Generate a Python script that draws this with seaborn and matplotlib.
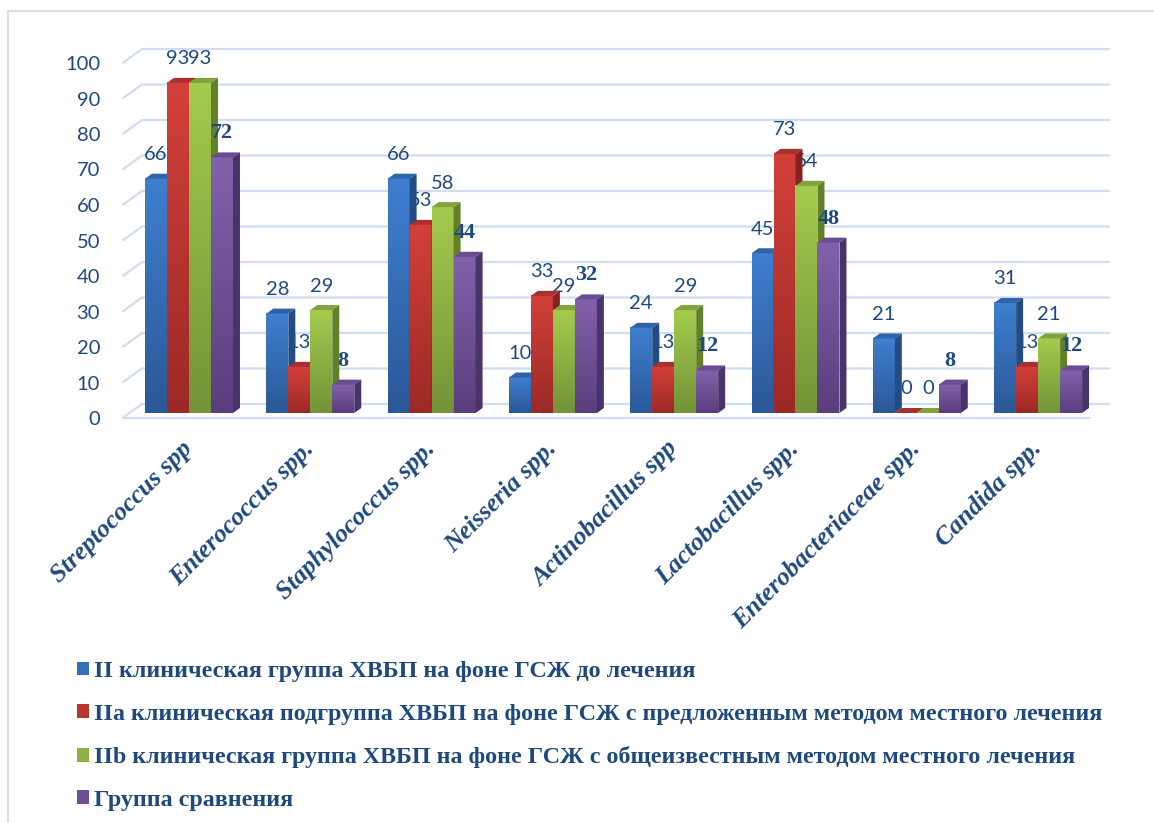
import numpy as np
import pandas as pd
import matplotlib
matplotlib.use("Agg")
import matplotlib.pyplot as plt
import seaborn as sns
from matplotlib.patches import Polygon, Patch
from matplotlib.lines import Line2D
from matplotlib.colors import LinearSegmentedColormap
from matplotlib.transforms import ScaledTranslation

# ---- data -------------------------------------------------------------
categories = ["Streptococcus spp", "Enterococcus spp.", "Staphylococcus spp.",
              "Neisseria spp.", "Actinobacillus spp", "Lactobacillus spp.",
              "Enterobacteriaceae spp.", "Candida spp."]

series_names = [
    "II клиническая группа ХВБП на фоне ГСЖ до лечения",
    "IIa клиническая подгруппа ХВБП на фоне ГСЖ с предложенным методом местного лечения",
    "IIb клиническая группа ХВБП на фоне ГСЖ с общеизвестным методом местного лечения",
    "Группа сравнения",
]

group_ii = [66, 28, 66, 10, 24, 45, 21, 31]
group_iia = [93, 13, 53, 33, 13, 73, 0, 13]
group_iib = [93, 29, 58, 29, 29, 64, 0, 21]
group_cmp = [72, 8, 44, 32, 12, 48, 8, 12]

y_ticks = list(range(0, 101, 10))

# ---- style ------------------------------------------------------------
# front-face gradient (top, bottom), top face, side face
shades = [
    ("#3E7FD0", "#2B5897", "#2F64A8", "#244C84"),
    ("#D3403A", "#9C2926", "#A9302C", "#85221F"),
    ("#A5CB4D", "#739338", "#80A33B", "#62802A"),
    ("#8261AB", "#5A3E7D", "#6A4C93", "#48336A"),
]
mid_colors = ["#3470BA", "#BA3530", "#8DB143", "#6E5096"]
text_color = "#1F497D"
grid_color = "#D0DCF0"

sns.set_theme(style="white")
plt.rcParams["font.family"] = ["Lato", "DejaVu Sans"]

W, H = 1154, 823
fig = plt.figure(figsize=(W / 100, H / 100), dpi=100)
fig.patch.set_facecolor("white")

# pixel geometry of the plotting region
x0_px, px_per_cat = 189.0, 121.3      # centre of first category, spacing
y0_px, px_per_val = 413.0, 3.55       # baseline of bars, pixels per unit
ax_l, ax_r, ax_t, ax_b = 122, 1110, 40, 425
ax = fig.add_axes([ax_l / W, 1 - ax_b / H, (ax_r - ax_l) / W, (ax_b - ax_t) / H])


def to_cat(px):
    return (px - x0_px) / px_per_cat


def to_val(py):
    return (y0_px - py) / px_per_val


df = pd.DataFrame({
    "category": categories * 4,
    "series": sum([[s] * len(categories) for s in series_names], []),
    "value": group_ii + group_iia + group_iib + group_cmp,
})

sns.barplot(data=df, x="category", y="value", hue="series", order=categories,
            hue_order=series_names, palette=mid_colors, width=0.725, gap=0,
            linewidth=0, legend=False, ax=ax, errorbar=None)

# depth of each bar (3-D look)
ddx = 7 / px_per_cat
ddy = 5 / px_per_val

bars = []
for si, cont in enumerate(ax.containers):
    for p in cont.patches:
        bars.append((p.get_x(), si, p))
bars.sort(key=lambda t: t[0])

for rank, (_, si, p) in enumerate(bars):
    z = 3 + rank
    top_c, bot_c, lid_c, side_c = shades[si]
    x, w, h = p.get_x(), p.get_width(), p.get_height()
    p.set_zorder(z)
    p.set_facecolor(bot_c)
    if h > 0:
        cmap = LinearSegmentedColormap.from_list("g", [bot_c, top_c])
        ax.imshow(np.linspace(0, 1, 256).reshape(-1, 1), extent=[x, x + w, 0, h],
                  origin="lower", cmap=cmap, aspect="auto", zorder=z,
                  interpolation="bilinear")
    ax.add_patch(Polygon([(x, h), (x + w, h), (x + w + ddx, h + ddy), (x + ddx, h + ddy)],
                         closed=True, facecolor=lid_c, edgecolor="none", zorder=z))
    ax.add_patch(Polygon([(x + w, 0), (x + w + ddx, ddy), (x + w + ddx, h + ddy), (x + w, h)],
                         closed=True, facecolor=side_c, edgecolor="none", zorder=z))

    # value labels
    cx = x + w / 2
    if si == 3:
        ax.annotate(f"{int(round(h))}", (cx, h), xytext=(0, 17.3), textcoords="offset points",
                    ha="center", va="center", color=text_color, zorder=50,
                    fontsize=16, fontweight="bold", family="Liberation Serif")
    else:
        ax.annotate(f"{int(round(h))}", (cx, h), xytext=(0, 17.3), textcoords="offset points",
                    ha="center", va="center", color=text_color, zorder=1.5,
                    fontsize=14.5, family="Lato")

# back wall gridlines with left-hand diagonals and the floor edge
xf, xb, xr = to_cat(122.5), to_cat(142), to_cat(1110)
front_dv = 5 / px_per_val
back_dv = 9 / px_per_val
for v in y_ticks:
    ax.plot([xf, xb, xr], [v - front_dv, v + back_dv, v + back_dv],
            color=grid_color, lw=1.6, zorder=1, clip_on=False, solid_capstyle="butt")
ax.plot([xf, to_cat(1090)], [-front_dv, -front_dv], color=grid_color, lw=1.6,
        zorder=1, clip_on=False)

ax.set_xlim(to_cat(ax_l), to_cat(ax_r))
ax.set_ylim(to_val(ax_b), to_val(ax_t))

# y tick labels sit at the front edge of the wall
ax.set_yticks(y_ticks)
ax.set_yticklabels([str(v) for v in y_ticks], fontsize=14.5, color=text_color, family="Lato")
ax.tick_params(axis="y", length=0, pad=15.8)
for lbl in ax.get_yticklabels():
    lbl.set_transform(lbl.get_transform() + ScaledTranslation(0, -5 / 100, fig.dpi_scale_trans))

ax.set_xticks(range(len(categories)))
ax.set_xticklabels(categories, rotation=45, ha="right", va="center", rotation_mode="anchor",
                   fontsize=18.5, fontweight="bold", fontstyle="italic",
                   family="Liberation Serif", color=text_color)
ax.tick_params(axis="x", length=0, pad=14.4)
ax.set_xlabel("")
ax.set_ylabel("")
for s in ax.spines.values():
    s.set_visible(False)
ax.set_facecolor("none")
ax.grid(False)

# legend below the plot
handles = [Patch(facecolor=c, edgecolor="none") for c in mid_colors]
fig.legend(handles, series_names, loc="upper left", bbox_to_anchor=(77 / W, 1 - 661 / H),
           frameon=False, handlelength=0.5, handleheight=0.5, handletextpad=0.2,
           borderpad=0, borderaxespad=0, labelspacing=0.9,
           prop={"family": "Liberation Serif", "weight": "bold", "size": 17.3},
           labelcolor=text_color)

# outer chart frame (top and left edges)
fig.add_artist(Line2D([8 / W, 1], [1 - 11 / H, 1 - 11 / H], color="#D6E0F0", lw=1.5))
fig.add_artist(Line2D([8 / W, 8 / W], [0, 1 - 11 / H], color="#D6E0F0", lw=1.5))

fig.savefig("out.png", dpi=100, facecolor="white")
